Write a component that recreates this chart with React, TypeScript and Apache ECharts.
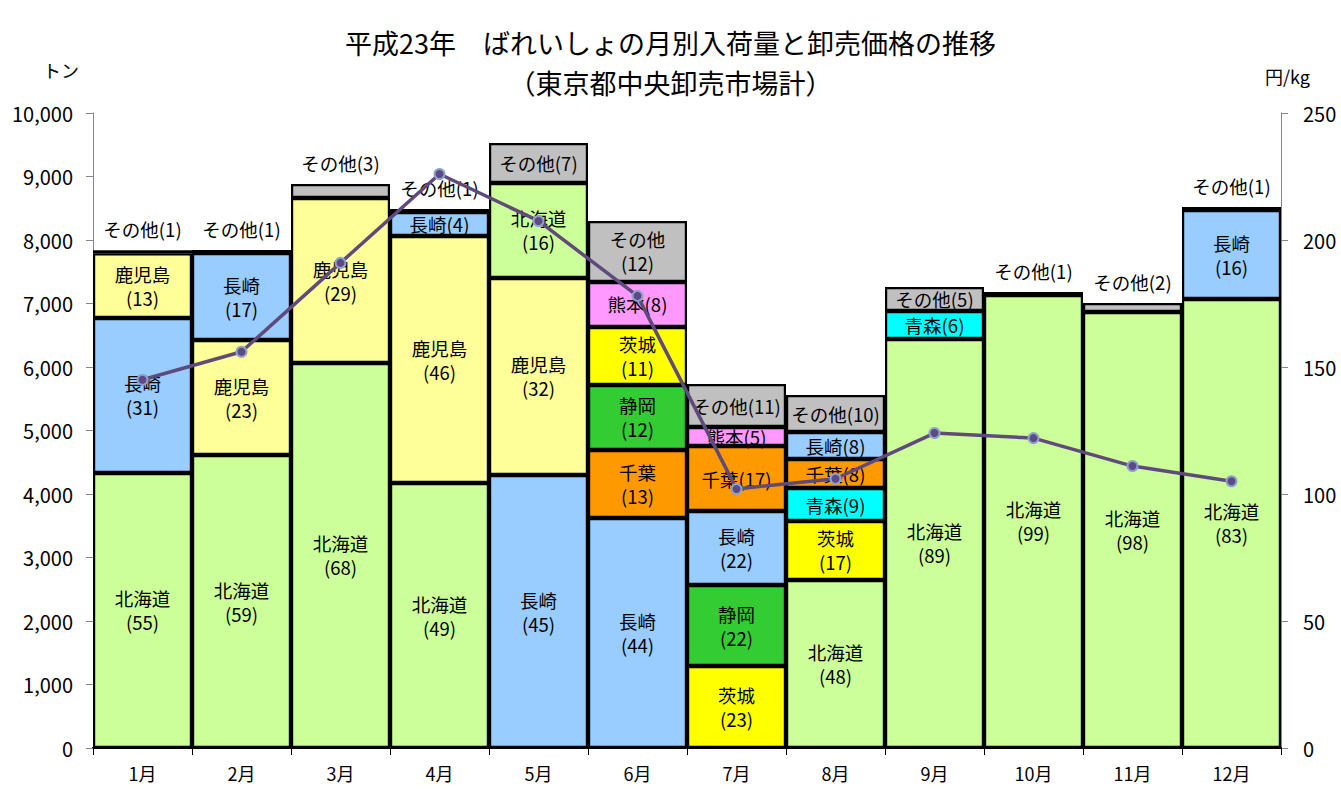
import React, { useEffect, useRef } from "react";
import * as echarts from "echarts";

const months = ["1月", "2月", "3月", "4月", "5月", "6月", "7月", "8月", "9月", "10月", "11月", "12月"];

// stacked layers from bottom (origin, tons, share %)
const layer1Origin = ["北海道", "北海道", "北海道", "北海道", "長崎", "長崎", "茨城", "北海道", "北海道", "北海道", "北海道", "北海道"];
const layer1Tons = [4331, 4614, 6063, 4173, 4299, 3622, 1291, 2646, 6441, 7134, 6866, 7071];
const layer1Share = [55, 59, 68, 49, 45, 44, 23, 48, 89, 99, 98, 83];

const layer2Origin = ["長崎", "鹿児島", "鹿児島", "鹿児島", "鹿児島", "千葉", "静岡", "茨城", "青森", "その他", "その他", "長崎"];
const layer2Tons = [2441, 1811, 2598, 3890, 3103, 1071, 1276, 929, 441, 47, 142, 1401];
const layer2Share = [31, 23, 29, 46, 32, 13, 22, 17, 6, 1, 2, 16];

const layer3Origin = ["鹿児島", "長崎", "その他", "長崎", "北海道", "静岡", "長崎", "青森", "その他", "", "", "その他"];
const layer3Tons = [1018, 1370, 221, 378, 1496, 1024, 1165, 519, 378, null, null, 48];
const layer3Share = [13, 17, 3, 4, 16, 12, 22, 9, 5, null, null, 1];

const layer4Origin = ["その他", "その他", "", "その他", "その他", "茨城", "千葉", "千葉", "", "", "", ""];
const layer4Tons = [47, 47, null, 47, 630, 913, 1024, 457, null, null, null, null];
const layer4Share = [1, 1, null, 1, 7, 11, 17, 8, null, null, null, null];

const layer5Origin = ["", "", "", "", "", "熊本", "熊本", "長崎", "", "", "", ""];
const layer5Tons = [null, null, null, null, null, 709, 299, 425, null, null, null, null];
const layer5Share = [null, null, null, null, null, 8, 5, 8, null, null, null, null];

const layer6Origin = ["", "", "", "", "", "その他", "その他", "その他", "", "", "", ""];
const layer6Tons = [null, null, null, null, null, 960, 677, 583, null, null, null, null];
const layer6Share = [null, null, null, null, null, 12, 11, 10, null, null, null, null];

// wholesale price 円/kg
const price = [145, 156, 191, 226, 207.5, 178, 102, 106, 124, 122, 111, 105];

const originColors: Record<string, string> = {
  北海道: "#CCFF99",
  長崎: "#99CCFF",
  鹿児島: "#FFFF99",
  茨城: "#FFFF00",
  静岡: "#33CC33",
  千葉: "#FF9900",
  熊本: "#FF99FF",
  青森: "#00FFFF",
  その他: "#C0C0C0",
};

// segments whose label is written on one line although tall
const singleLineKeys = ["7月-千葉"];

const FONT = "'Noto Sans CJK JP', 'Noto Sans', sans-serif";

function buildLayer(origins: string[], tons: (number | null)[], shares: (number | null)[]) {
  return tons.map((v, i) => {
    if (v == null) return { value: null };
    const o = origins[i];
    const s = shares[i];
    let label: any;
    if (v < 250) {
      label = { show: true, position: "top", distance: 12, formatter: `${o}(${s})` };
    } else if (v < 900 || singleLineKeys.includes(`${months[i]}-${o}`)) {
      label = { show: true, position: "inside", formatter: `${o}(${s})` };
    } else {
      label = { show: true, position: "inside", formatter: `${o}\n(${s})`, lineHeight: 24 };
    }
    return { value: v, itemStyle: { color: originColors[o] }, label };
  });
}

export default function App() {
  const ref = useRef<HTMLDivElement>(null);
  useEffect(() => {
    document.body.style.margin = "0";
    const chart = echarts.init(ref.current!, undefined, { renderer: "svg" });
    const layers = [
      buildLayer(layer1Origin, layer1Tons, layer1Share),
      buildLayer(layer2Origin, layer2Tons, layer2Share),
      buildLayer(layer3Origin, layer3Tons, layer3Share),
      buildLayer(layer4Origin, layer4Tons, layer4Share),
      buildLayer(layer5Origin, layer5Tons, layer5Share),
      buildLayer(layer6Origin, layer6Tons, layer6Share),
    ];
    const barSeries = layers.map((data, idx) => ({
      name: "layer" + (idx + 1),
      type: "bar",
      stack: "total",
      barWidth: "100%",
      barCategoryGap: "0%",
      z: 2,
      itemStyle: { borderColor: "#000", borderWidth: 2.2 },
      label: { color: "#000", fontSize: 18.5, fontFamily: FONT },
      data,
    }));
    chart.setOption({
      animation: false,
      textStyle: { fontFamily: FONT },
      title: {
        text: "平成23年　ばれいしょの月別入荷量と卸売価格の推移\n（東京都中央卸売市場計）",
        left: "center",
        top: 17,
        textStyle: { fontSize: 27, fontWeight: "normal", lineHeight: 40, color: "#000", fontFamily: FONT },
      },
      graphic: [
        { type: "text", left: 43, top: 61, style: { text: "トン", fontSize: 18, fill: "#000", fontFamily: FONT } },
        { type: "text", left: 1265, top: 67, style: { text: "円/kg", fontSize: 18, fill: "#000", fontFamily: FONT } },
      ],
      grid: { left: 93, right: 60, top: 113, bottom: 49 },
      xAxis: [
        {
          type: "category",
          data: months,
          axisLine: { lineStyle: { color: "#000", width: 2 } },
          axisTick: { show: true, length: 7, lineStyle: { color: "#000" } },
          axisLabel: { color: "#000", fontSize: 18, margin: 16, fontFamily: FONT },
        },
        {
          type: "category",
          data: months,
          position: "top",
          axisLine: { lineStyle: { color: "#000", width: 1.5 } },
          axisTick: { show: false },
          axisLabel: { show: false },
        },
      ],
      yAxis: [
        {
          type: "value",
          min: 0,
          max: 10000,
          interval: 1000,
          axisLine: { show: true, lineStyle: { color: "#868686" } },
          axisTick: { show: true, length: 7, lineStyle: { color: "#868686" } },
          splitLine: { show: false },
          axisLabel: {
            color: "#000",
            fontSize: 20,
            margin: 20,
            fontFamily: FONT,
            formatter: (v: number) => v.toLocaleString("en-US"),
          },
        },
        {
          type: "value",
          min: 0,
          max: 250,
          interval: 50,
          position: "right",
          axisLine: { show: true, lineStyle: { color: "#868686" } },
          axisTick: { show: true, length: 7, lineStyle: { color: "#868686" } },
          splitLine: { show: false },
          axisLabel: { color: "#000", fontSize: 20, margin: 22, fontFamily: FONT },
        },
      ],
      series: [
        ...barSeries,
        {
          name: "価格",
          type: "line",
          yAxisIndex: 1,
          z: 10,
          data: price,
          symbol: "circle",
          symbolSize: 10,
          lineStyle: { color: "#604A7B", width: 3.5 },
          itemStyle: { color: "#5B4A84", borderColor: "#8EA0CC", borderWidth: 2 },
        },
      ],
    } as any);
    return () => chart.dispose();
  }, []);
  return <div ref={ref} style={{ width: 1341, height: 797 }} />;
}
